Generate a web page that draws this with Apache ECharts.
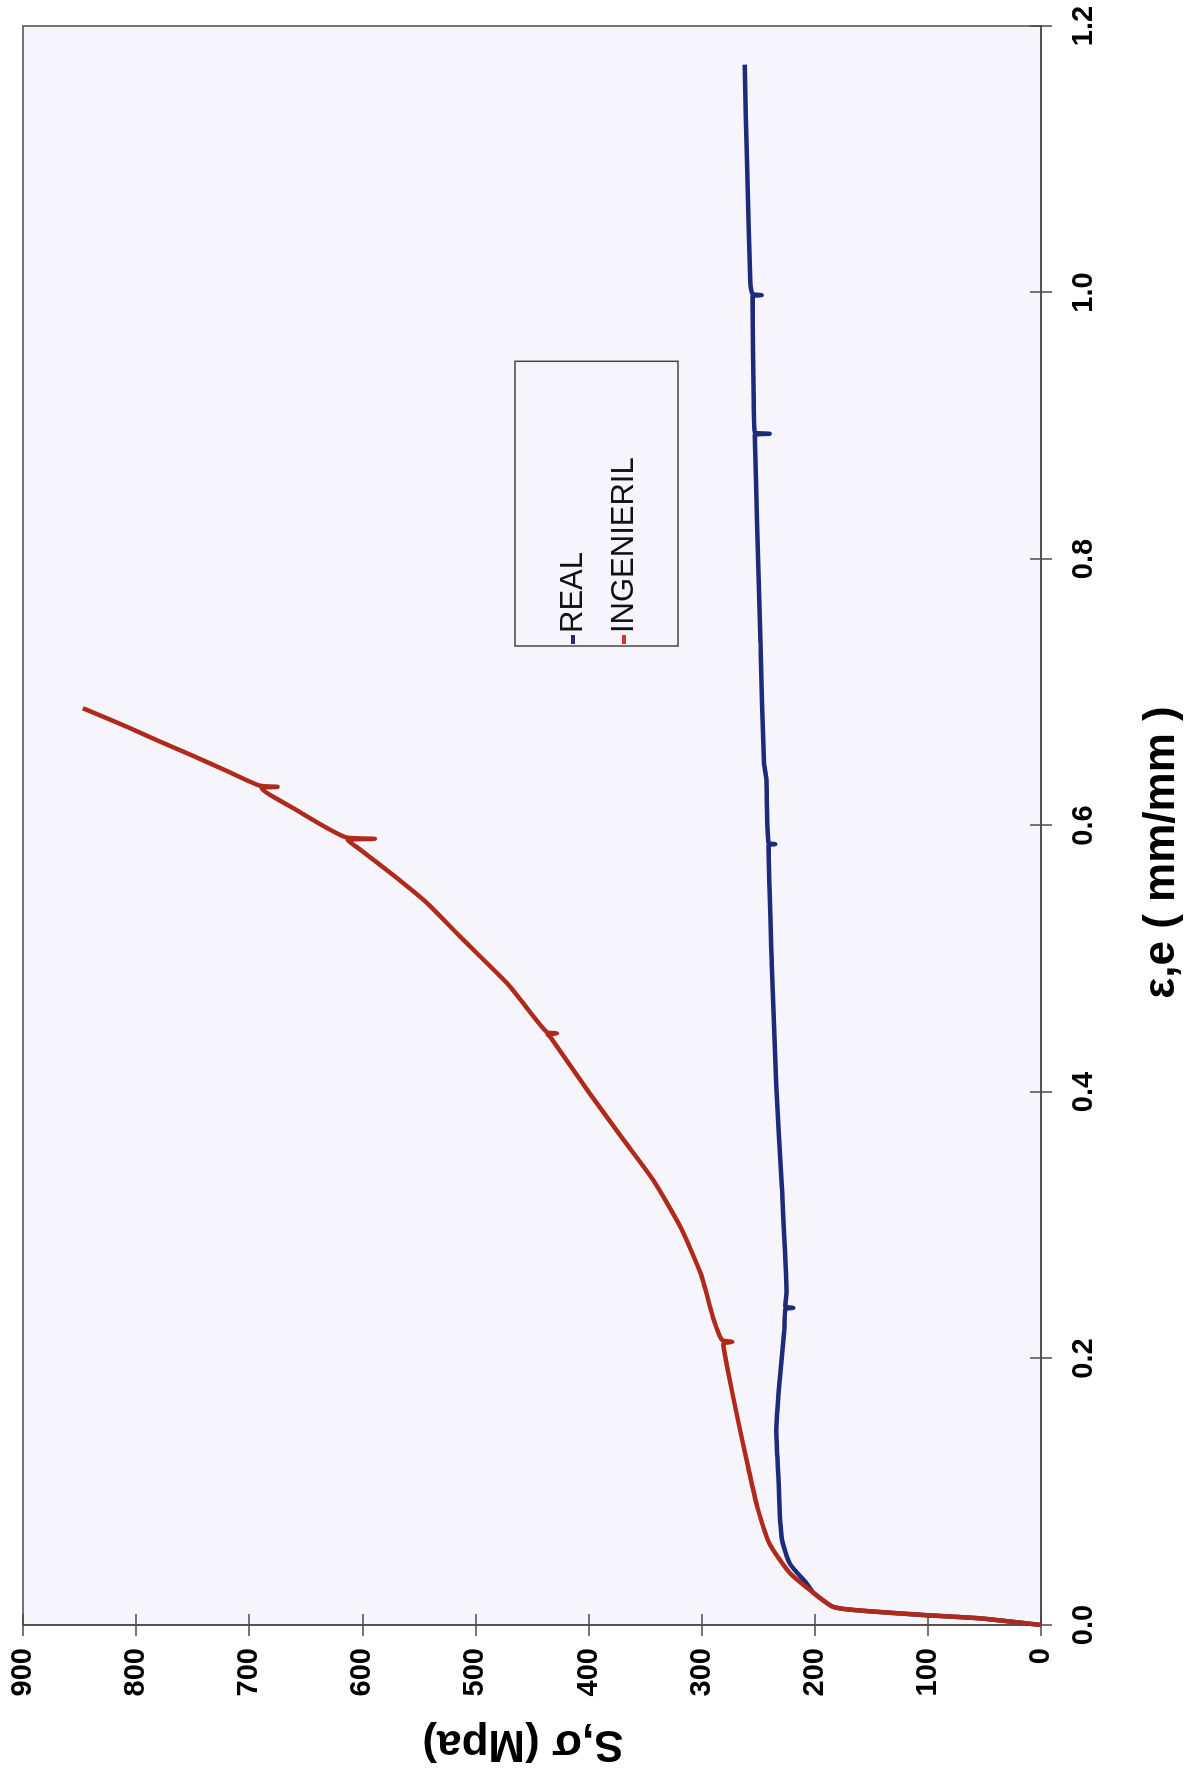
<!DOCTYPE html>
<html>
<head>
<meta charset="utf-8">
<script src="https://cdn.jsdelivr.net/npm/echarts@6/dist/echarts.min.js"></script>
<style>
  html, body { margin: 0; padding: 0; background: #ffffff; }
  body { width: 1195px; height: 1775px; overflow: hidden; position: relative; }
  /* The chart is laid out landscape and turned a quarter turn counter-clockwise on the page */
  #chart {
    position: absolute; left: 0; top: 0;
    width: 1775px; height: 1195px;
    transform-origin: 0 0;
    transform: translate(0, 1775px) rotate(-90deg);
  }
</style>
</head>
<body>
<div id="chart"></div>
<script>
// Axis ranges and tick steps
const strainAxis = { min: 0, max: 1.2, step: 0.2 };
const stressAxis = { min: 0, max: 900, step: 100 };

const seriesNames = ['REAL', 'INGENIERIL'];

// REAL curve: strain (mm/mm) and stress (MPa)
const realStrain = [0, 0.005, 0.0075, 0.0113, 0.0137, 0.024, 0.031, 0.046, 0.064, 0.084, 0.109, 0.146, 0.184, 0.221, 0.237, 0.238, 0.239, 0.249, 0.327, 0.405, 0.496, 0.585, 0.586, 0.587, 0.636, 0.647, 0.737, 0.828, 0.893, 0.894, 0.895, 0.918, 0.997, 0.998, 0.999, 1.009, 1.099, 1.171];
const realStress = [0, 54, 104, 166, 184, 201, 207, 222, 229, 231, 232, 234, 231, 227, 226, 219, 226, 225, 229, 234, 238, 241, 235, 241, 243, 245, 248, 251, 253, 240, 253, 254, 255, 247, 255, 257, 260, 262];

// INGENIERIL curve: strain (mm/mm) and stress (MPa)
const ingStrain = [0, 0.005, 0.0075, 0.0113, 0.0137, 0.024, 0.039, 0.061, 0.089, 0.119, 0.154, 0.196, 0.211, 0.2125, 0.214, 0.231, 0.264, 0.299, 0.334, 0.364, 0.399, 0.4415, 0.443, 0.444, 0.445, 0.468, 0.4816, 0.517, 0.542, 0.563, 0.582, 0.589, 0.590, 0.591, 0.598, 0.613, 0.628, 0.629, 0.630, 0.641, 0.652, 0.663, 0.674, 0.688];
const ingStress = [0, 54, 104, 166, 184, 201, 222, 240, 251, 259, 268, 278, 281, 273, 282, 290, 301, 319, 343, 369, 399, 434, 436, 428, 437, 459, 472, 514, 543, 573, 602, 613, 589, 614, 631, 661, 689, 675, 691, 720, 749, 779, 808, 847];

const zip = (xs, ys) => xs.map((x, i) => [x, ys[i]]);

const FONT = '"Liberation Sans", Arial, sans-serif';
const AXIS_COLOR = '#4a4a4a';

const chart = echarts.init(document.getElementById('chart'), null, { renderer: 'canvas' });

const tickLen = 11;
const tickStyle = { color: AXIS_COLOR, width: 1.5 };

chart.setOption({
  backgroundColor: '#ffffff',
  animation: false,
  grid: {
    left: 150, right: 26, top: 23, bottom: 154,
    show: true,
    backgroundColor: '#f6f5fb',
    borderColor: AXIS_COLOR,
    borderWidth: 1.5
  },
  legend: {
    data: seriesNames,
    orient: 'vertical',
    left: 1129,
    top: 515,
    padding: [42, 96, 38, 2],
    itemGap: 19,
    itemWidth: 9,
    itemHeight: 4,
    icon: 'rect',
    borderColor: '#444',
    borderWidth: 1.5,
    textStyle: { fontFamily: FONT, fontSize: 31, color: '#111', lineHeight: 32, padding: [0, 0, 0, -3] }
  },
  xAxis: [
    {
      type: 'value',
      min: strainAxis.min, max: strainAxis.max, interval: strainAxis.step,
      position: 'bottom',
      name: 'ε,e ( mm/mm )',
      nameLocation: 'middle',
      nameGap: 99,
      nameTextStyle: { fontFamily: FONT, fontSize: 44, fontWeight: 'bold', color: '#000', padding: [0, 54, 0, 0] },
      axisLine: { show: true, lineStyle: { color: AXIS_COLOR, width: 1.5 } },
      axisTick: { show: true, inside: false, length: tickLen, lineStyle: tickStyle },
      axisLabel: {
        margin: 28,
        fontFamily: FONT, fontSize: 29, fontWeight: 'bold', color: '#000',
        formatter: v => v.toFixed(1)
      },
      splitLine: { show: false }
    },
    {
      // inner half of the crossing tick marks along the strain axis (sits on stress = 0)
      type: 'value',
      min: strainAxis.min, max: strainAxis.max, interval: strainAxis.step,
      position: 'top',
      axisLine: { show: false, onZero: true },
      axisTick: { show: true, inside: false, length: tickLen, lineStyle: tickStyle },
      axisLabel: { show: false },
      splitLine: { show: false }
    }
  ],
  yAxis: [
    {
      type: 'value',
      min: stressAxis.min, max: stressAxis.max, interval: stressAxis.step,
      position: 'left',
      name: 'S,σ (Mpa)',
      nameLocation: 'middle',
      nameGap: 96,
      nameTextStyle: { fontFamily: FONT, fontSize: 44, fontWeight: 'bold', color: '#000', padding: [0, 0, 0, 18] },
      axisLine: { show: true, lineStyle: { color: AXIS_COLOR, width: 1.5 } },
      axisTick: { show: true, inside: false, length: tickLen, lineStyle: tickStyle },
      axisLabel: { margin: 23, fontFamily: FONT, fontSize: 29, fontWeight: 'bold', color: '#000' },
      splitLine: { show: false }
    },
    {
      // inner half of the crossing tick marks along the stress axis (sits on strain = 0)
      type: 'value',
      min: stressAxis.min, max: stressAxis.max, interval: stressAxis.step,
      position: 'right',
      axisLine: { show: false, onZero: true },
      axisTick: { show: true, inside: false, length: tickLen, lineStyle: tickStyle },
      axisLabel: { show: false },
      splitLine: { show: false }
    }
  ],
  series: [
    {
      name: seriesNames[0],
      type: 'line',
      xAxisIndex: 0, yAxisIndex: 0,
      data: zip(realStrain, realStress),
      showSymbol: false,
      symbol: 'none',
      smooth: 0.2,
      lineStyle: { color: '#1f2a78', width: 4.5 },
      itemStyle: { color: '#1f2a78' }
    },
    {
      name: seriesNames[1],
      type: 'line',
      xAxisIndex: 0, yAxisIndex: 0,
      data: zip(ingStrain, ingStress),
      showSymbol: false,
      symbol: 'none',
      smooth: 0.2,
      lineStyle: { color: '#b02a1c', width: 4.5 },
      itemStyle: { color: '#d0342a' }
    }
  ]
});
</script>
</body>
</html>
